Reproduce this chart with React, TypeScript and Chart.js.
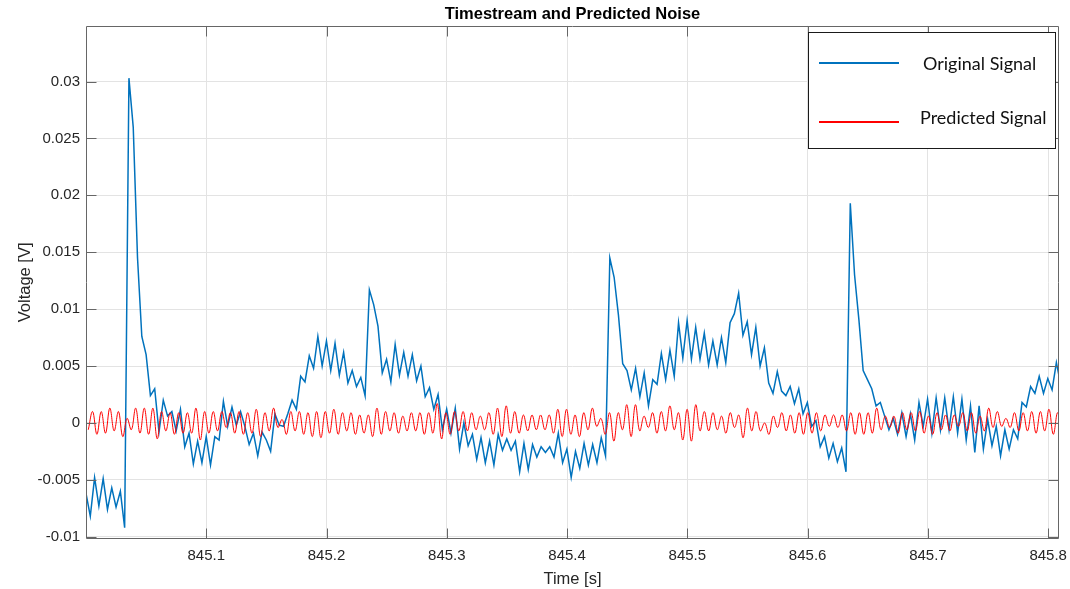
import React, { useEffect, useRef } from 'react';
import { Chart, registerables } from 'chart.js';

Chart.register(...registerables);

// ---- Labels -------------------------------------------------------------
const TITLE = 'Timestream and Predicted Noise';
const X_LABEL = 'Time [s]';
const Y_LABEL = 'Voltage [V]';
const SERIES_NAMES = ['Original Signal', 'Predicted Signal'];

// ---- Axes ---------------------------------------------------------------
const X_MIN = 845.0;
const X_MAX = 845.809;
const Y_MIN = -0.0102;
const Y_MAX = 0.0349;
const X_TICKS = [845.1, 845.2, 845.3, 845.4, 845.5, 845.6, 845.7, 845.8];
const X_TICK_LABELS = ['845.1', '845.2', '845.3', '845.4', '845.5', '845.6', '845.7', '845.8'];
const Y_TICKS = [-0.01, -0.005, 0, 0.005, 0.01, 0.015, 0.02, 0.025, 0.03];
const Y_TICK_LABELS = ['-0.01', '-0.005', '0', '0.005', '0.01', '0.015', '0.02', '0.025', '0.03'];

// ---- Original signal: sampled every ORIGINAL_STEP seconds, values in mV --
const ORIGINAL_START = 845.0;
const ORIGINAL_STEP = 0.00357;
const ORIGINAL_MV = [
  -6.2, -8.2, -4.8, -7.3, -4.9, -7.6, -5.7, -7.4, -6.0, -9.2,
  30.3, 26.0, 14.5, 7.6, 6.0, 2.4, 3.0, -0.8, 2.0, 0.6,
  1.0, -0.7, 1.2, -2.1, -0.9, -3.6, -1.6, -3.5, -1.2, -3.7,
  -1.2, -1.5, 1.9, -0.3, 1.4, -0.2, 1.0, -0.3, -1.9, -0.9,
  -2.9, -0.8, -1.5, -2.5, 0.8, -0.2, -0.3, 0.8, 2.0, 1.2,
  4.1, 3.6, 5.9, 4.8, 7.6, 5.0, 7.2, 4.6, 7.0, 4.2,
  6.2, 3.5, 4.6, 3.2, 4.0, 2.4, 11.7, 10.4, 8.5, 4.4,
  5.6, 3.6, 6.9, 4.2, 6.2, 4.1, 6.0, 3.7, 5.0, 2.3,
  3.1, 1.2, 2.5, -0.6, 1.2, -0.9, 1.3, -2.3, 0.0, -2.0,
  -1.0, -3.2, -1.3, -3.5, -1.6, -3.7, -1.0, -2.4, -1.4, -2.4,
  -1.6, -4.3, -1.8, -4.1, -1.9, -3.0, -2.1, -2.6, -2.1, -3.0,
  -0.9, -3.5, -2.3, -4.8, -2.5, -4.0, -1.8, -3.7, -1.9, -3.5,
  -1.3, -2.9, 14.5, 12.8, 9.5, 5.2, 4.6, 2.9, 4.8, 2.3,
  4.4, 1.5, 3.8, 3.4, 6.1, 3.8, 6.4, 4.1, 8.8, 5.7,
  9.0, 5.6, 8.4, 5.6, 7.9, 5.1, 7.2, 5.1, 7.5, 5.3,
  8.8, 9.6, 11.4, 7.7, 8.9, 6.0, 8.4, 5.0, 6.6, 3.5,
  2.6, 4.5, 2.8, 2.4, 3.2, 1.7, 3.0, 0.8, 1.8, -0.3,
  0.2, -2.1, -1.2, -3.1, -1.8, -3.4, -2.2, -4.3, 19.3, 13.0,
  9.1, 4.6, 3.8, 3.0, 1.5, 1.8, 0.6, -0.6, 0.4, -1.0,
  0.9, -1.2, 0.8, -1.5, 1.8, -0.3, 2.1, -0.9, 2.2, -0.6,
  2.2, -0.6, 2.3, -0.9, 2.1, -1.5, 1.5, -2.6, 1.5, -2.3,
  0.3, -2.0, -0.3, -2.9, -0.6, -2.3, -0.6, -1.4, 1.8, 1.4,
  3.2, 2.6, 4.1, 2.6, 3.9, 2.9, 5.3, 3.4,
];

// ---- Predicted signal: alternating troughs/peaks, values in mV ----------
const PREDICTED_START = 845.0019;
const PREDICTED_STEP = 0.003582;
const PREDICTED_MV = [
  -0.6, 1.0, -1.0, 1.0, -0.9, 1.3, -0.7, 1.0, -1.2, 0.4,
  -0.6, 1.3, -0.9, 1.3, -1.0, 1.3, -1.4, 1.0, -0.7, 0.9,
  -1.0, 0.9, -0.9, 0.9, -0.9, 1.3, -1.5, 1.0, -0.9, 1.0,
  -0.7, 1.0, -0.4, 0.9, -0.9, 1.0, -1.0, 0.9, -0.9, 1.2,
  -1.2, 0.9, -0.7, 1.3, -0.4, 0.3, -1.0, 1.0, -0.7, 1.0,
  -1.0, 0.9, -1.2, 1.0, -1.3, 1.0, -0.9, 1.2, -1.0, 0.9,
  -0.7, 0.9, -1.0, 0.7, -0.9, 0.7, -1.2, 1.3, -1.0, 1.0,
  -0.7, 0.9, -0.9, 0.6, -0.7, 0.9, -0.7, 0.9, -1.0, 0.9,
  -0.9, 1.7, -1.4, 0.9, -1.0, 1.0, -0.7, 1.0, -0.7, 0.9,
  -0.6, 0.6, -0.6, 0.9, -1.0, 1.3, -1.2, 1.5, -0.9, 1.0,
  -0.9, 0.7, -0.7, 0.7, -0.6, 0.7, -0.6, 0.7, -0.9, 1.2,
  -1.2, 1.2, -1.0, 0.7, -1.2, 0.9, -0.6, 1.3, -0.3, 0.4,
  -1.0, 0.9, -1.6, 0.9, -0.6, 1.6, -1.2, 1.6, -0.7, 0.6,
  -0.4, 0.9, -0.9, 1.0, -0.7, 1.5, -0.6, 0.9, -1.5, 1.2,
  -1.6, 1.6, -0.7, 1.0, -0.7, 0.9, -0.6, 0.6, -0.9, 0.9,
  -0.4, 0.7, -1.3, 1.3, -0.7, 1.0, -0.7, 0.0, -1.0, 0.6,
  -0.4, 0.9, -0.7, 0.7, -0.9, 0.9, -1.0, 0.9, -0.9, 0.9,
  -0.7, 0.7, -0.3, 0.7, -0.4, 0.7, -0.7, 0.9, -1.0, 0.9,
  -1.0, 0.9, -0.9, 1.3, -0.6, 0.6, -0.4, 0.6, -0.9, 0.9,
  -0.6, 0.9, -0.7, 1.0, -0.9, 0.6, -1.0, 0.9, -0.6, 0.7,
  -0.7, 0.7, -0.3, 0.9, -0.7, 0.9, -0.9, 0.6, -0.7, 1.3,
  -0.4, 1.0, -0.3, 0.4, -0.4, 0.9, -0.7, 0.9, -0.7, 1.0,
  -0.9, 1.0, -0.7, 1.2, -1.0, 0.9, -1.3,
];

// ---- Styling ------------------------------------------------------------
const BLUE = 'rgb(0,114,189)';
const RED = 'rgb(255,0,0)';
const TEXT = '#262626';
const GRID = '#e3e3e3';
const FRAME = '#666666';
const SANS = "'Liberation Sans', Arial, Helvetica, sans-serif";
const LEGEND_FONT = "18px Lato, 'Liberation Sans', sans-serif";

const toPoints = (start: number, step: number, mv: number[]) =>
  mv.map((v, i) => ({ x: start + i * step, y: v / 1000 }));

const labelFor = (ticks: number[], labels: string[]) => (value: number | string) => {
  const idx = ticks.findIndex((t) => Math.abs(t - Number(value)) < 1e-7);
  return idx >= 0 ? labels[idx] : '';
};

// Box around the axes with inward tick marks on all four sides.
const axesFrame = {
  id: 'axesFrame',
  afterDatasetsDraw(chart: any) {
    const { ctx, chartArea: a, scales } = chart;
    const L = Math.round(a.left) + 0.5;
    const R = Math.round(a.right) - 0.5;
    const T = Math.round(a.top) + 0.5;
    const B = Math.round(a.bottom) - 0.5;
    const len = 10;
    ctx.save();
    ctx.strokeStyle = FRAME;
    ctx.lineWidth = 1;
    ctx.beginPath();
    ctx.rect(L, T, R - L, B - T);
    X_TICKS.forEach((v) => {
      const px = Math.round(scales.x.getPixelForValue(v)) + 0.5;
      ctx.moveTo(px, B);
      ctx.lineTo(px, B - len);
      ctx.moveTo(px, T);
      ctx.lineTo(px, T + len);
    });
    Y_TICKS.forEach((v) => {
      const py = Math.round(scales.y.getPixelForValue(v)) + 0.5;
      ctx.moveTo(L, py);
      ctx.lineTo(L + len, py);
      ctx.moveTo(R, py);
      ctx.lineTo(R - len, py);
    });
    ctx.stroke();
    ctx.restore();
  },
};

// Boxed legend in the upper-right corner of the axes.
const signalLegend = {
  id: 'signalLegend',
  afterDraw(chart: any) {
    const { ctx, chartArea: a } = chart;
    const right = Math.round(a.right) - 4;
    const top = Math.round(a.top) + 6;
    const w = 247;
    const h = 116;
    const left = right - w;
    ctx.save();
    ctx.fillStyle = '#ffffff';
    ctx.fillRect(left, top, w, h);
    ctx.strokeStyle = '#1a1a1a';
    ctx.lineWidth = 1;
    ctx.strokeRect(left + 0.5, top + 0.5, w, h);

    const rows = [
      { name: SERIES_NAMES[0], color: BLUE, lineY: top + 31, textY: top + 32, textX: left + 115 },
      { name: SERIES_NAMES[1], color: RED, lineY: top + 90, textY: top + 86, textX: left + 112 },
    ];
    rows.forEach((r) => {
      ctx.strokeStyle = r.color;
      ctx.lineWidth = 2.2;
      ctx.beginPath();
      ctx.moveTo(left + 11, r.lineY);
      ctx.lineTo(left + 91, r.lineY);
      ctx.stroke();
      ctx.fillStyle = '#111111';
      ctx.font = LEGEND_FONT;
      ctx.textAlign = 'left';
      ctx.textBaseline = 'middle';
      ctx.fillText(r.name, r.textX, r.textY);
    });
    ctx.restore();
  },
};

export default function App() {
  const canvasRef = useRef<HTMLCanvasElement | null>(null);

  useEffect(() => {
    const canvas = canvasRef.current;
    if (!canvas) return;

    const chart = new Chart(canvas, {
      type: 'line',
      data: {
        datasets: [
          {
            label: SERIES_NAMES[0],
            data: toPoints(ORIGINAL_START, ORIGINAL_STEP, ORIGINAL_MV),
            borderColor: BLUE,
            borderWidth: 1.5,
            pointRadius: 0,
            tension: 0,
            fill: false,
            order: 1,
          },
          {
            label: SERIES_NAMES[1],
            data: toPoints(PREDICTED_START, PREDICTED_STEP, PREDICTED_MV),
            borderColor: RED,
            borderWidth: 1,
            pointRadius: 0,
            tension: 0.4,
            fill: false,
            order: 0,
          },
        ],
      },
      options: {
        responsive: false,
        animation: false,
        devicePixelRatio: 1,
        layout: { padding: { left: 0, right: 11, top: 0, bottom: 0 } },
        plugins: {
          legend: { display: false },
          tooltip: { enabled: false },
          title: {
            display: true,
            text: TITLE,
            fullSize: false,
            color: '#000000',
            font: { family: SANS, size: 16.5, weight: 'bold' },
            padding: { top: 5, bottom: 1 },
          },
        },
        scales: {
          x: {
            type: 'linear',
            min: X_MIN,
            max: X_MAX,
            afterBuildTicks: (s: any) => {
              s.ticks = X_TICKS.map((v) => ({ value: v }));
            },
            afterFit: (s: any) => {
              s.height = 50;
              s.paddingLeft = 0;
              s.paddingRight = 0;
            },
            ticks: {
              callback: labelFor(X_TICKS, X_TICK_LABELS),
              color: TEXT,
              font: { family: SANS, size: 15 },
              padding: 8,
              maxRotation: 0,
              autoSkip: false,
            },
            grid: { color: GRID, lineWidth: 1, drawTicks: false },
            border: { display: false },
            title: {
              display: true,
              text: X_LABEL,
              color: TEXT,
              font: { family: SANS, size: 16.5 },
              padding: { top: 0, bottom: 0 },
            },
          },
          y: {
            type: 'linear',
            min: Y_MIN,
            max: Y_MAX,
            afterBuildTicks: (s: any) => {
              s.ticks = Y_TICKS.map((v) => ({ value: v }));
            },
            afterFit: (s: any) => {
              s.width = 86;
              s.paddingTop = 0;
              s.paddingBottom = 0;
            },
            ticks: {
              callback: labelFor(Y_TICKS, Y_TICK_LABELS),
              color: TEXT,
              font: { family: SANS, size: 15 },
              padding: 6,
              autoSkip: false,
            },
            grid: { color: GRID, lineWidth: 1, drawTicks: false },
            border: { display: false },
            title: {
              display: true,
              text: Y_LABEL,
              color: TEXT,
              font: { family: SANS, size: 16.5 },
              padding: { top: 16, bottom: 0 },
            },
          },
        },
      },
      plugins: [axesFrame, signalLegend],
    } as any);

    return () => chart.destroy();
  }, []);

  return (
    <div style={{ position: 'absolute', left: 0, top: 0, width: 1070, height: 589, background: '#ffffff' }}>
      <canvas ref={canvasRef} width={1070} height={589} style={{ display: 'block' }} />
    </div>
  );
}
